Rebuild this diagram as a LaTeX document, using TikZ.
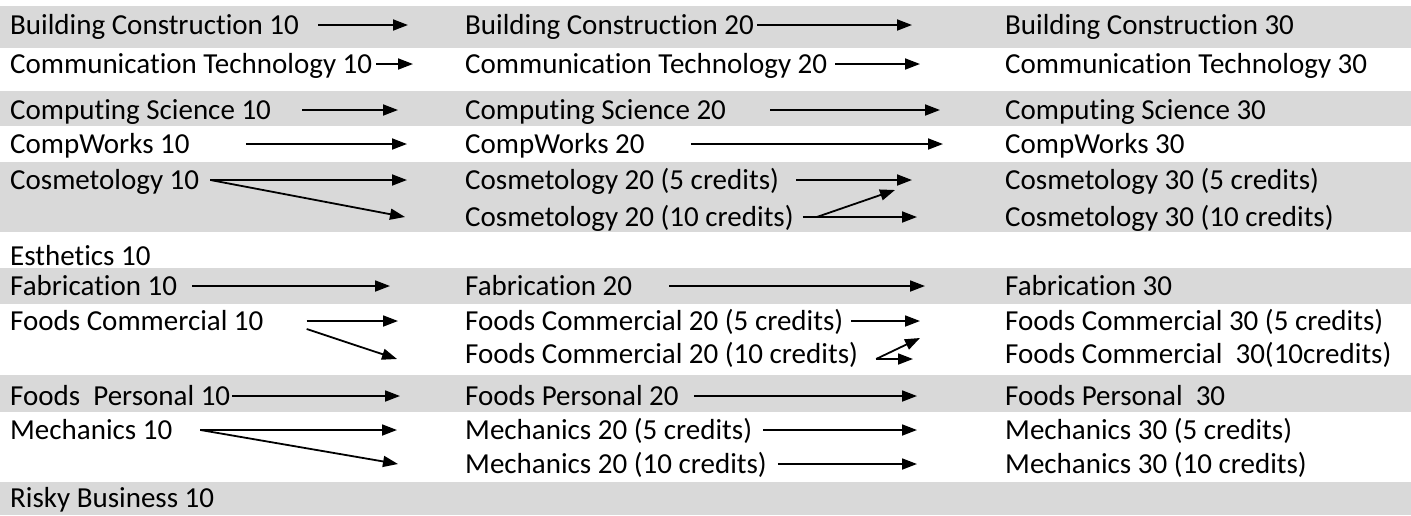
\documentclass[tikz,border=0pt]{standalone}
\usepackage{fontspec}
\setmainfont[Ligatures={NoCommon}]{Carlito}
\usepackage{xcolor}
\usepackage{tikz}
\usetikzlibrary{arrows.meta}
\definecolor{rowgray}{HTML}{D9D9D9}

\begin{document}
\begin{tikzpicture}[x=1pt,y=-1pt,
  every node/.style={anchor=west,inner sep=0pt,text height=18pt,text depth=0pt,
    font=\fontsize{29}{34}\selectfont},
  >={Triangle[length=15pt,width=11pt]},
  link/.style={->,line width=1.8pt}]
  \useasboundingbox (0,0) rectangle (1411,515);
  % shaded rows
  \foreach \ya/\yb in {6/48,91/126,162/232,268/304,375/412,482/515}
    \fill[rowgray] (0,\ya) rectangle (1411,\yb);

  % 10 level
  \node (bc10) at (10,25) {Building Construction 10};
  \node (ct10) at (10,64) {Communication Technology 10};
  \node (cs10) at (10,110) {Computing Science 10};
  \node (cw10) at (10,144) {CompWorks 10};
  \node (cos10) at (10,180) {Cosmetology 10};
  \node (est10) at (10,256) {Esthetics 10};
  \node (fab10) at (10,286) {Fabrication 10};
  \node (fc10) at (10,321) {Foods Commercial 10};
  \node (fp10) at (10,396) {Foods\ \ Personal 10};
  \node (mec10) at (10,430) {Mechanics 10};
  \node (rb10) at (10,498) {Risky Business 10};

  % 20 level
  \node (bc20) at (465,25) {Building Construction 20};
  \node (ct20) at (465,64) {Communication Technology 20};
  \node (cs20) at (465,110) {Computing Science 20};
  \node (cw20) at (465,144) {CompWorks 20};
  \node (cos20a) at (465,180) {Cosmetology 20 (5 credits)};
  \node (cos20b) at (465,217) {Cosmetology 20 (10 credits)};
  \node (fab20) at (465,286) {Fabrication 20};
  \node (fc20a) at (465,321) {Foods Commercial 20 (5 credits)};
  \node (fc20b) at (465,354) {Foods Commercial 20 (10 credits)};
  \node (fp20) at (465,396) {Foods Personal 20};
  \node (mec20a) at (465,430) {Mechanics 20 (5 credits)};
  \node (mec20b) at (465,464) {Mechanics 20 (10 credits)};

  % 30 level
  \node (bc30) at (1005,25) {Building Construction 30};
  \node (ct30) at (1005,64) {Communication Technology 30};
  \node (cs30) at (1005,110) {Computing Science 30};
  \node (cw30) at (1005,144) {CompWorks 30};
  \node (cos30a) at (1005,180) {Cosmetology 30 (5 credits)};
  \node (cos30b) at (1005,217) {Cosmetology 30 (10 credits)};
  \node (fab30) at (1005,286) {Fabrication 30};
  \node (fc30a) at (1005,321) {Foods Commercial 30 (5 credits)};
  \node (fc30b) at (1005,354) {Foods Commercial\ \ 30(10credits)};
  \node (fp30) at (1005,396) {Foods Personal\ \ 30};
  \node (mec30a) at (1005,430) {Mechanics 30 (5 credits)};
  \node (mec30b) at (1005,464) {Mechanics 30 (10 credits)};

  % pathways
  \draw[link] ([xshift=19pt]bc10.east) -- ([xshift=-57pt]bc20.west);
  \draw[link] ([xshift=3pt]bc20.east) -- ([xshift=-93pt]bc30.west);
  \draw[link] ([xshift=4pt]ct10.east) -- ([xshift=-52pt]ct20.west);
  \draw[link] ([xshift=8pt]ct20.east) -- ([xshift=-85pt]ct30.west);
  \draw[link] ([xshift=31pt]cs10.east) -- ([xshift=-67pt]cs20.west);
  \draw[link] ([xshift=44pt]cs20.east) -- ([xshift=-65pt]cs30.west);
  \draw[link] ([xshift=56pt]cw10.east) -- ([xshift=-58pt]cw20.west);
  \draw[link] ([xshift=46pt]cw20.east) -- ([xshift=-62pt]cw30.west);
  \draw[link] ([xshift=11pt]cos10.east) -- ([xshift=-58pt]cos20a.west);
  \draw[link] ([xshift=11pt]cos10.east) -- ([xshift=-60pt]cos20b.west);
  \draw[link] ([xshift=17pt]cos20a.east) -- ([xshift=-93pt]cos30a.west);
  \draw[link] ([xshift=23pt]cos20b.east) -- ([xshift=-110pt,yshift=-10pt]cos30a.west);
  \draw[link] ([xshift=9pt]cos20b.east) -- ([xshift=-88pt]cos30b.west);
  \draw[link] ([xshift=15pt]fab10.east) -- ([xshift=-75pt]fab20.west);
  \draw[link] ([xshift=37pt]fab20.east) -- ([xshift=-80pt]fab30.west);
  \draw[link] ([xshift=43pt]fc10.east) -- ([xshift=-67pt]fc20a.west);
  \draw[link] ([xshift=43pt,yshift=-8pt]fc10.east) -- ([xshift=-68pt,yshift=-5pt]fc20b.west);
  \draw[link] ([xshift=8pt]fc20a.east) -- ([xshift=-85pt]fc30a.west);
  \draw[link] ([xshift=18pt,yshift=-5pt]fc20b.east) -- ([xshift=-85pt,yshift=-17pt]fc30a.west);
  \draw[link] ([xshift=18pt,yshift=-5pt]fc20b.east) -- ([xshift=-92pt,yshift=-5pt]fc30b.west);
  \draw[link] ([xshift=2pt]fp10.east) -- ([xshift=-65pt]fp20.west);
  \draw[link] ([xshift=15pt]fp20.east) -- ([xshift=-88pt]fp30.west);
  \draw[link] ([xshift=28pt]mec10.east) -- ([xshift=-68pt]mec20a.west);
  \draw[link] ([xshift=28pt]mec10.east) -- ([xshift=-67pt]mec20b.west);
  \draw[link] ([xshift=11pt]mec20a.east) -- ([xshift=-88pt]mec30a.west);
  \draw[link] ([xshift=11pt]mec20b.east) -- ([xshift=-88pt]mec30b.west);
\end{tikzpicture}
\end{document}
